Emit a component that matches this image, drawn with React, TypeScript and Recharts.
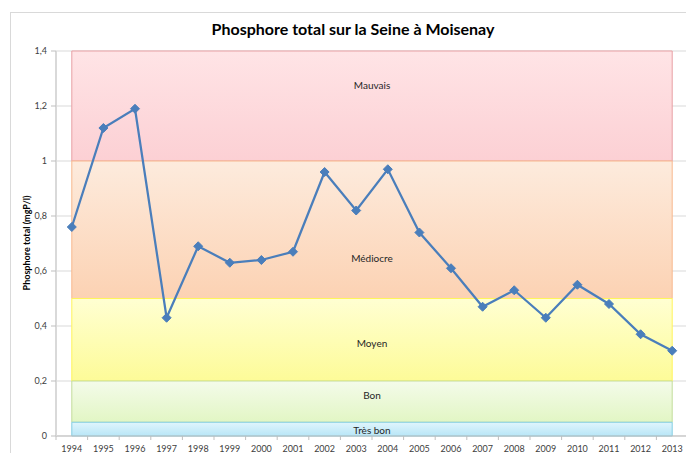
import {
  CartesianGrid,
  ComposedChart,
  Label,
  Line,
  ReferenceArea,
  ReferenceDot,
  XAxis,
  YAxis,
} from 'recharts';

// Mesures annuelles
const years = [
  1994, 1995, 1996, 1997, 1998, 1999, 2000, 2001, 2002, 2003, 2004, 2005, 2006, 2007, 2008,
  2009, 2010, 2011, 2012, 2013,
];
const phosphore = [
  0.76, 1.12, 1.19, 0.43, 0.69, 0.63, 0.64, 0.67, 0.96, 0.82, 0.97, 0.74, 0.61, 0.47, 0.53,
  0.43, 0.55, 0.48, 0.37, 0.31,
];

// Classes de qualité (seuils en mgP/l)
const classNames = ['Mauvais', 'Médiocre', 'Moyen', 'Bon', 'Très bon'];
const classLow = [1.0, 0.5, 0.2, 0.05, 0];
const classHigh = [1.4, 1.0, 0.5, 0.2, 0.05];
const classLabelValue = [1.276, 0.647, 0.338, 0.149, 0.022];
const classLabelYear = 2003.5;

const yTicks = [0, 0.2, 0.4, 0.6, 0.8, 1, 1.2, 1.4];

const bandStyles = [
  { top: '#ffe4e6', bottom: '#fcd0d4', stroke: '#e8a0a4' },
  { top: '#fdebdd', bottom: '#fcd2b3', stroke: '#f8b88e' },
  { top: '#ffffd2', bottom: '#fdfb98', stroke: '#fff45c' },
  { top: '#f4fbea', bottom: '#e2f6c4', stroke: '#c3dc9c' },
  { top: '#e0f5fc', bottom: '#b8e6f7', stroke: '#84cee2' },
];

const data = years.map((year, i) => ({ year, value: phosphore[i] }));
const slotEdges = [...years.map((y) => y - 0.5), years[years.length - 1] + 0.5];
const xDomain = [slotEdges[0], slotEdges[slotEdges.length - 1]];

const font = 'Lato, "Liberation Sans", sans-serif';

function formatTick(value: number) {
  return String(Number(value.toFixed(1))).replace('.', ',');
}

function Diamond(props: any) {
  const { cx, cy } = props;
  if (cx == null || cy == null) return <g key={props.index} />;
  const r = 4.5;
  return (
    <path
      key={props.index}
      d={`M${cx},${cy - r}L${cx + r},${cy}L${cx},${cy + r}L${cx - r},${cy}Z`}
      fill="#4a7ebb"
      stroke="#4a7ebb"
      strokeWidth={1}
    />
  );
}

export default function App() {
  return (
    <div
      style={{
        position: 'absolute',
        left: 0,
        top: 0,
        width: 686,
        height: 453,
        overflow: 'hidden',
        background: '#ffffff',
        fontFamily: font,
      }}
    >
      <div
        style={{
          position: 'absolute',
          left: 10,
          top: 12,
          width: 700,
          height: 470,
          border: '1px solid #d9d9d9',
        }}
      />
      <div
        style={{
          position: 'absolute',
          left: 0,
          top: 19,
          width: 706,
          textAlign: 'center',
          fontSize: 16,
          lineHeight: '19px',
          fontWeight: 700,
          color: '#000000',
        }}
      >
        Phosphore total sur la Seine à Moisenay
      </div>
      <div style={{ position: 'absolute', left: 0, top: 0 }}>
        <ComposedChart
          width={690}
          height={453}
          data={data}
          margin={{ top: 51, right: 2, bottom: 0, left: 0 }}
        >
          <defs>
            {bandStyles.map((s, i) => (
              <linearGradient key={i} id={`band${i}`} x1="0" y1="0" x2="0" y2="1">
                <stop offset="0%" stopColor={s.top} />
                <stop offset="100%" stopColor={s.bottom} />
              </linearGradient>
            ))}
          </defs>
          <CartesianGrid
            xAxisId="years"
            yAxisId="p"
            horizontal
            vertical={false}
            stroke="#d9d9d9"
          />
          <XAxis
            xAxisId="ticks"
            type="number"
            dataKey="year"
            domain={xDomain}
            ticks={slotEdges}
            interval={0}
            allowDataOverflow
            height={1}
            tick={() => <g />}
            tickSize={4}
            tickLine={{ stroke: '#bfbfbf' }}
            axisLine={{ stroke: '#bfbfbf' }}
          />
          <XAxis
            xAxisId="years"
            type="number"
            dataKey="year"
            domain={xDomain}
            ticks={years}
            interval={0}
            allowDataOverflow
            height={16}
            axisLine={false}
            tickLine={false}
            tickSize={7}
            tickMargin={2}
            tick={{ fill: '#404040', fontSize: 9, fontFamily: font }}
          />
          <YAxis
            yAxisId="p"
            type="number"
            domain={[0, 1.4]}
            ticks={yTicks}
            interval={0}
            width={56}
            tickFormatter={formatTick}
            tick={{ fill: '#404040', fontSize: 9, fontFamily: font }}
            tickSize={5}
            tickMargin={4}
            tickLine={{ stroke: '#bfbfbf' }}
            axisLine={{ stroke: '#d9d9d9', strokeWidth: 2 }}
          >
            <Label
              content={() => (
                <text
                  x={30}
                  y={243}
                  transform="rotate(-90 30 243)"
                  textAnchor="middle"
                  fontSize={9}
                  fontWeight={700}
                  fontFamily={font}
                  fill="#000000"
                >
                  Phosphore total (mgP/l)
                </text>
              )}
            />
          </YAxis>
          {classNames.map((name, i) => (
            <ReferenceArea
              key={name}
              xAxisId="years"
              yAxisId="p"
              x1={years[0]}
              x2={years[years.length - 1]}
              y1={classLow[i]}
              y2={classHigh[i]}
              fill={`url(#band${i})`}
              fillOpacity={1}
              stroke={bandStyles[i].stroke}
              strokeWidth={1}
              ifOverflow="visible"
            />
          ))}
          {classNames.map((name, i) => (
            <ReferenceDot
              key={`lbl-${name}`}
              xAxisId="years"
              yAxisId="p"
              x={classLabelYear}
              y={classLabelValue[i]}
              r={0}
              fill="none"
              stroke="none"
              label={{
                value: name,
                position: 'center',
                fontSize: 10,
                fill: '#262626',
                fontFamily: font,
              }}
            />
          ))}
          <Line
            xAxisId="years"
            yAxisId="p"
            type="linear"
            dataKey="value"
            stroke="#4a7ebb"
            strokeWidth={2.25}
            dot={Diamond}
            activeDot={false}
            isAnimationActive={false}
          />
        </ComposedChart>
      </div>
    </div>
  );
}
